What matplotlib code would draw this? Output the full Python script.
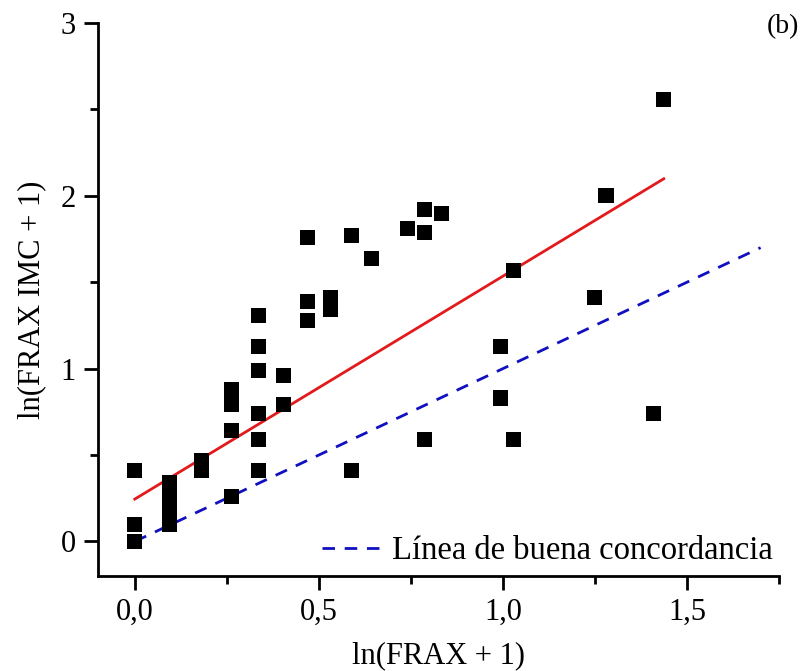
import matplotlib
matplotlib.use('Agg')
import matplotlib.pyplot as plt
from matplotlib.ticker import MultipleLocator, FuncFormatter

plt.rcParams['font.family'] = ['Liberation Serif', 'DejaVu Serif']

# ln(FRAX + 1) y ln(FRAX IMC + 1)
x_frax = [0.0, 0.0, 0.0,
          0.095, 0.095, 0.095, 0.095,
          0.182, 0.182,
          0.262, 0.262, 0.262, 0.262,
          0.336, 0.336, 0.336, 0.336, 0.336, 0.336,
          0.405, 0.405,
          0.47, 0.47, 0.47,
          0.531, 0.531,
          0.588, 0.588,
          0.642, 0.742,
          0.788, 0.788, 0.788,
          0.833,
          0.993, 0.993,
          1.03, 1.03,
          1.25, 1.28, 1.41, 1.435]
y_imc = [0.41, 0.10, 0.0,
         0.34, 0.26, 0.18, 0.10,
         0.47, 0.41,
         0.88, 0.79, 0.64, 0.26,
         1.31, 1.13, 0.99, 0.74, 0.59, 0.41,
         0.96, 0.79,
         1.76, 1.39, 1.28,
         1.41, 1.34,
         1.77, 0.41,
         1.64, 1.81,
         1.92, 1.79, 0.59,
         1.90,
         1.13, 0.83,
         1.57, 0.59,
         1.41, 2.00, 0.74, 2.56]

# recta de regresion
fit_x = [0.0, 1.437]
fit_b = 0.245
fit_m = 1.29
# linea de buena concordancia y = x
ident_x = [0.0, 1.7]

fig = plt.figure(figsize=(8.01, 6.71), dpi=100)
ax = fig.add_axes([98/801, 1-576/671, (779-98)/801, (576-23)/671])

ax.scatter(x_frax, y_imc, marker='s', s=15**2*0.52, c='black', edgecolors='none', zorder=3)
ax.plot(fit_x, [fit_b + fit_m*v for v in fit_x], color='#e31a1c', lw=2, zorder=2)
ax.plot(ident_x, ident_x, color='#1010c0', lw=2, ls=(0, (4.5, 3.5)), zorder=2,
        label='Línea de buena concordancia')

ax.set_xlim(-0.1, 1.75)
ax.set_ylim(-0.2, 3)
ax.xaxis.set_major_locator(MultipleLocator(0.5))
ax.xaxis.set_minor_locator(MultipleLocator(0.25))
ax.yaxis.set_major_locator(MultipleLocator(1))
ax.yaxis.set_minor_locator(MultipleLocator(0.5))
ax.xaxis.set_major_formatter(FuncFormatter(lambda v, p: f'{v:.1f}'.replace('.', ',')))
ax.yaxis.set_major_formatter(FuncFormatter(lambda v, p: f'{v:.0f}'))

for s in ['top', 'right']:
    ax.spines[s].set_visible(False)
for s in ['left', 'bottom']:
    ax.spines[s].set_linewidth(2)
ax.tick_params(which='major', direction='out', length=10, width=2, labelsize=22, pad=6)
ax.tick_params(which='minor', direction='out', length=6, width=2)

ax.set_xlabel('ln(FRAX + 1)', fontsize=22, labelpad=10)
ax.set_ylabel('ln(FRAX IMC + 1)', fontsize=22, labelpad=10)

ax.legend(loc='lower right', frameon=False, fontsize=23.5, handlelength=2.0,
          handletextpad=0.15, borderaxespad=0.1, bbox_to_anchor=(1.015, -0.012))
fig.text(0.998, 0.96, '(b)', fontsize=20, ha='right', va='center')

fig.savefig('out.png', dpi=100)
